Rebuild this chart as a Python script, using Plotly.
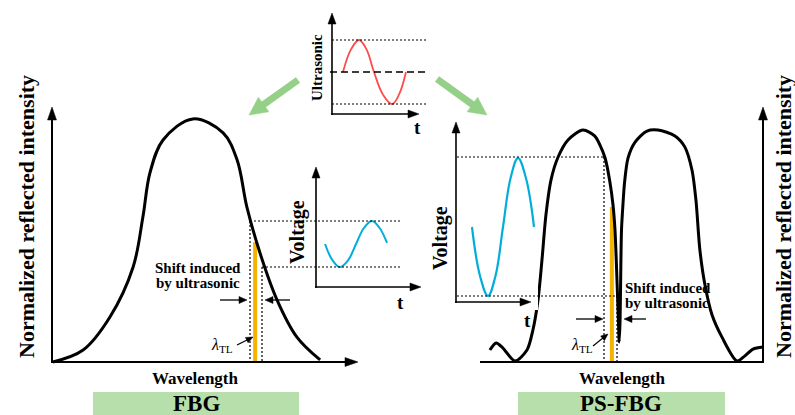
import math
import plotly.graph_objects as go

W, H = 795, 415

# ---------------- data ----------------
# FBG reflection spectrum: wavelength (a.u., 0-100 along axis) vs normalized intensity
fbg_wavelength = [0.3, 10.2, 19.0, 26.6, 29.8, 32.1, 36.4, 46.2, 56.1, 60.7, 63.9, 68.2, 73.8, 80.3, 87.9]
fbg_intensity = [0.0, 0.047, 0.177, 0.374, 0.571, 0.744, 0.874, 0.957, 0.902, 0.795, 0.610, 0.429, 0.244, 0.098, 0.008]
fbg_lambda_tl = 66.6
fbg_bar_top = 0.472

# PS-FBG reflection spectrum
ps_wavelength = [3.5, 5.7, 8.1, 12.4, 16.6, 18.7, 20.5, 21.9, 23.3, 25.1, 27.6, 31.1, 36.4, 40.5, 42.4,
                 44.2, 45.9, 47.0, 47.7, 48.4, 48.9, 49.2, 49.5, 49.7, 50.0, 50.5, 51.1, 52.3,
                 54.8, 59.0, 62.9, 68.9, 72.4, 74.9, 76.3, 77.7, 79.5, 82.0, 85.5, 90.8, 93.6, 96.5, 100.0]
ps_intensity = [0.047, 0.075, 0.055, 0.004, 0.047, 0.126, 0.244, 0.402, 0.579, 0.717, 0.807, 0.874, 0.913, 0.890, 0.854,
                0.803, 0.709, 0.618, 0.520, 0.323, 0.165, 0.079, 0.165, 0.323, 0.520, 0.618, 0.709, 0.803,
                0.866, 0.909, 0.913, 0.890, 0.846, 0.756, 0.638, 0.441, 0.303, 0.185, 0.098, 0.004, 0.024, 0.051, 0.059]
ps_lambda_tl = 46.6
ps_bar_top = 0.610

# Ultrasonic signal (t a.u., amplitude)
us_t = [12.8, 22.1, 31.4, 40.1, 48.8, 59.3, 69.8, 77.9, 86.0]
us_amp = [0.0, 0.707, 1.0, 0.707, 0.0, -0.707, -1.0, -0.707, 0.0]

# Voltage output, FBG (small)
v1_t = [8.7, 15.9, 23.1, 30.8, 38.5, 46.2, 53.8, 61.0, 68.3]
v1_v = [0.361, 0.224, 0.168, 0.224, 0.361, 0.498, 0.555, 0.498, 0.370]

# Voltage output, PS-FBG (large)
v2_t = [21.6, 32.4, 43.2, 53.4, 63.5, 73.7, 83.8, 94.6, 105.4]
v2_v = [0.419, 0.147, 0.034, 0.147, 0.419, 0.691, 0.804, 0.691, 0.419]

# ---------------- helpers ----------------
FONT = "Liberation Serif"
shapes, annotations = [], []
layout_axes = {}
DOT = "2px,2px"


def px(x):
    return x / W


def py(y):
    return 1 - y / H


def add_axes(n, x0, x1, y0, y1, xr, yr, pad=8):
    sx = (xr[1] - xr[0]) / (x1 - x0)
    sy = (yr[1] - yr[0]) / (y0 - y1)
    xn = "xaxis" if n == 1 else f"xaxis{n}"
    yn = "yaxis" if n == 1 else f"yaxis{n}"
    layout_axes[xn] = dict(domain=[(x0 - pad) / W, (x1 + pad) / W],
                           range=[xr[0] - pad * sx, xr[1] + pad * sx],
                           visible=False, anchor=f"y{n if n > 1 else ''}")
    layout_axes[yn] = dict(domain=[1 - (y0 + pad) / H, 1 - (y1 - pad) / H],
                           range=[yr[0] - pad * sy, yr[1] + pad * sy],
                           visible=False, anchor=f"x{n if n > 1 else ''}")


def line(x0, y0, x1, y1, color="black", width=1.5, dash="solid"):
    shapes.append(dict(type="line", xref="paper", yref="paper",
                       x0=px(x0), y0=py(y0), x1=px(x1), y1=py(y1),
                       line=dict(color=color, width=width, dash=dash)))


def tri(tx, ty, dx, dy, L, Wd, color):
    d = math.hypot(dx, dy)
    ux, uy = dx / d, dy / d
    bx, by = tx - ux * L, ty - uy * L
    nx, ny = -uy, ux
    p1 = (bx + nx * Wd / 2, by + ny * Wd / 2)
    p2 = (bx - nx * Wd / 2, by - ny * Wd / 2)
    path = (f"M {px(tx)},{py(ty)} L {px(p1[0])},{py(p1[1])} "
            f"L {px(p2[0])},{py(p2[1])} Z")
    shapes.append(dict(type="path", xref="paper", yref="paper", path=path,
                       fillcolor=color, line=dict(color=color, width=0.5)))


def arrow(x0, y0, x1, y1, L=8, Wd=7, color="black", width=1.3):
    d = math.hypot(x1 - x0, y1 - y0)
    ux, uy = (x1 - x0) / d, (y1 - y0) / d
    line(x0, y0, x1 - ux * L * 0.7, y1 - uy * L * 0.7, color, width)
    tri(x1, y1, ux, uy, L, Wd, color)


def text(x, y, s, size, angle=0, xanchor="center", bold=True):
    annotations.append(dict(xref="paper", yref="paper", x=px(x), y=py(y),
                            text=f"<b>{s}</b>" if bold else s, showarrow=False,
                            font=dict(family=FONT, size=size, color="black"),
                            textangle=angle, xanchor=xanchor, yanchor="middle",
                            borderpad=0))


# ---------------- axes for the data ----------------
add_axes(1, 52, 357, 362, 108, [0, 100], [0, 1])          # FBG spectrum
add_axes(2, 480, 763, 362, 108, [0, 100], [0, 1])         # PS-FBG spectrum
add_axes(3, 332, 418, 114, 13, [0, 100], [-1.3125, 1.84375])  # ultrasonic
add_axes(4, 316, 420, 287, 168, [0, 100], [0, 1])         # voltage FBG
add_axes(5, 456, 530, 302, 123, [0, 100], [0, 1])         # voltage PS-FBG

fig = go.Figure()
ORANGE = "#F5B300"
BLUE = "#00AEDB"
RED = "#FF4B4B"

fig.add_trace(go.Scatter(x=[fbg_lambda_tl, fbg_lambda_tl], y=[0, fbg_bar_top], mode="lines",
                         line=dict(color=ORANGE, width=4), xaxis="x", yaxis="y"))
fig.add_trace(go.Scatter(x=fbg_wavelength, y=fbg_intensity, mode="lines",
                         line=dict(color="black", width=3, shape="spline", smoothing=1),
                         xaxis="x", yaxis="y"))
fig.add_trace(go.Scatter(x=[ps_lambda_tl, ps_lambda_tl], y=[0, ps_bar_top], mode="lines",
                         line=dict(color=ORANGE, width=4), xaxis="x2", yaxis="y2"))
fig.add_trace(go.Scatter(x=ps_wavelength, y=ps_intensity, mode="lines",
                         line=dict(color="black", width=3, shape="spline", smoothing=0.8),
                         xaxis="x2", yaxis="y2"))
fig.add_trace(go.Scatter(x=us_t, y=us_amp, mode="lines",
                         line=dict(color=RED, width=1.8, shape="spline", smoothing=1.1),
                         xaxis="x3", yaxis="y3"))
fig.add_trace(go.Scatter(x=v1_t, y=v1_v, mode="lines",
                         line=dict(color=BLUE, width=2, shape="spline", smoothing=1.1),
                         xaxis="x4", yaxis="y4"))
fig.add_trace(go.Scatter(x=v2_t, y=v2_v, mode="lines",
                         line=dict(color=BLUE, width=2.2, shape="spline", smoothing=1.1),
                         xaxis="x5", yaxis="y5"))

# ---------------- decorations ----------------
# green label boxes
shapes.append(dict(type="rect", xref="paper", yref="paper", x0=px(93), x1=px(299),
                   y0=py(416), y1=py(392), fillcolor="#B7DFAC", line=dict(width=0), layer="below"))
shapes.append(dict(type="rect", xref="paper", yref="paper", x0=px(518), x1=px(725),
                   y0=py(416), y1=py(392), fillcolor="#B7DFAC", line=dict(width=0), layer="below"))

# main axes
line(52, 363, 52, 118, width=2)
tri(52, 107, 0, -1, 13, 9, "black")
line(51, 362, 347, 362, width=2)
tri(358, 362, 1, 0, 13, 9, "black")

line(480, 362, 764, 362, width=2)
line(763, 363, 763, 118, width=2)
tri(763, 107, 0, -1, 13, 9, "black")

# ultrasonic inset
line(332, 115, 332, 22, width=1.6)
tri(332, 13, 0, -1, 11, 8, "black")
line(331, 114, 409, 114, width=1.6)
tri(419, 114, 1, 0, 11, 8, "black")
line(332, 40, 427, 40, width=1.2, dash=DOT)
line(332, 104, 427, 104, width=1.2, dash=DOT)
line(330, 72, 427, 72, width=1.5, dash="7px,4px")

# voltage inset (FBG)
line(316, 288, 316, 177, width=1.6)
tri(316, 167, 0, -1, 11, 8, "black")
line(315, 287, 411, 287, width=1.6)
tri(421, 287, 1, 0, 11, 8, "black")

# voltage inset (PS-FBG)
line(456, 303, 456, 132, width=1.6)
tri(456, 122, 0, -1, 11, 8, "black")
line(455, 302, 521, 302, width=1.6)
tri(531, 302, 1, 0, 11, 8, "black")

# dotted guide lines FBG
line(250, 221, 250, 362, width=1.2, dash=DOT)
line(262, 267, 262, 362, width=1.2, dash=DOT)
line(250, 221, 402, 221, width=1.2, dash=DOT)
line(262, 267, 402, 267, width=1.2, dash=DOT)

# dotted guide lines PS-FBG
line(457, 157, 604, 157, width=1.2, dash=DOT)
line(604, 157, 604, 362, width=1.2, dash=DOT)
line(457, 296, 617, 296, width=1.2, dash=DOT)
line(617, 296, 617, 362, width=1.2, dash=DOT)

# shift arrows
arrow(220, 300, 247, 300)
arrow(290, 300, 265, 300)
arrow(576, 319, 603, 319)
arrow(646, 319, 624, 319)
# lambda arrows
arrow(237, 345, 253, 337, L=7, Wd=6, width=1.2)
arrow(593, 346, 608, 334, L=7, Wd=6, width=1.2)

# green big arrows
GREEN = "#94D087"
arrow(298, 80, 249, 115, L=18, Wd=18, color=GREEN, width=7)
arrow(437, 79, 487, 115, L=18, Wd=18, color=GREEN, width=7)

# ---------------- texts ----------------
text(26, 217, "Normalized reflected intensity", 22, angle=-90)
text(783, 217, "Normalized reflected intensity", 22, angle=-90)
text(195, 378, "Wavelength", 17)
text(622, 378, "Wavelength", 17)
text(196, 403, "FBG", 23)
text(621, 403, "PS-FBG", 23)
text(198, 268, "Shift induced", 15)
text(198, 283, "by ultrasonic", 15)
text(624, 288, "Shift induced", 15, xanchor="left")
text(624, 303, "by ultrasonic", 15, xanchor="left")
text(317, 68, "Ultrasonic", 15, angle=-90)
text(297, 232, "Voltage", 20, angle=-90)
text(440, 238, "Voltage", 20, angle=-90)
text(417, 127, "t", 19)
text(400, 302, "t", 19)
text(527, 320, "t", 19)
text(222, 345, "<i>λ</i><sub>TL</sub>", 16, bold=False)
text(582, 345, "<i>λ</i><sub>TL</sub>", 16, bold=False)

fig.update_layout(width=W, height=H, margin=dict(l=0, r=0, t=0, b=0),
                  paper_bgcolor="white", plot_bgcolor="white", showlegend=False,
                  shapes=shapes, annotations=annotations, **layout_axes)
fig.update_traces(hoverinfo="skip")
fig.write_html("out.html", config={"displayModeBar": False, "staticPlot": True},
               post_script="document.body.style.margin='0';document.body.style.overflow='hidden';")
